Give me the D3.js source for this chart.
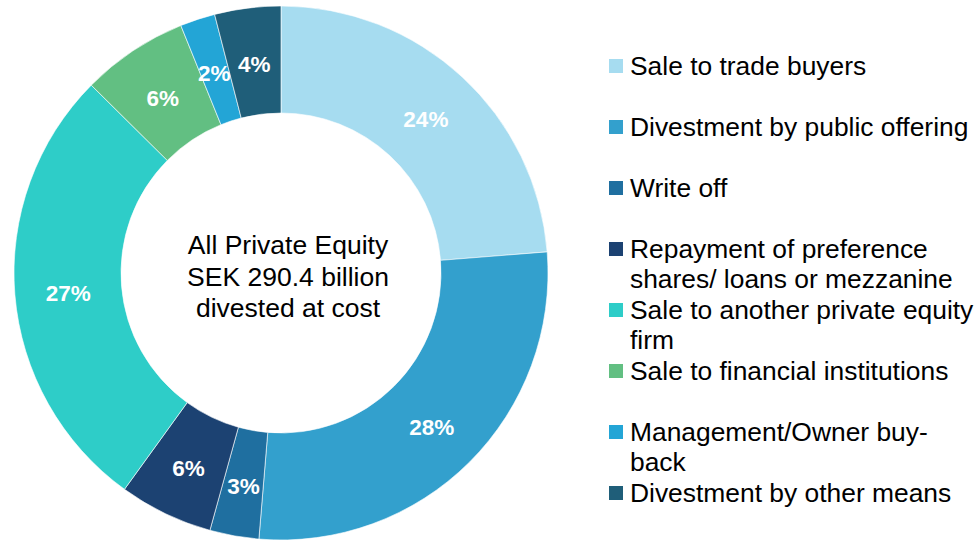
<!DOCTYPE html>
<html>
<head>
<meta charset="utf-8">
<script src="https://cdn.jsdelivr.net/npm/d3@7"></script>
<style>
  body { margin: 0; background: #fff; }
  svg text { font-family: "Liberation Sans", Arial, sans-serif; }
</style>
</head>
<body>
<div id="chart-container"></div>
<script>
const categories = [
  "Sale to trade buyers",
  "Divestment by public offering",
  "Write off",
  "Repayment of preference shares/ loans or mezzanine",
  "Sale to another private equity firm",
  "Sale to financial institutions",
  "Management/Owner buy-back",
  "Divestment by other means",
];
const shares = [23.74, 27.58, 2.97, 5.68, 27.45, 6.46, 2.12, 4.0];
const shareLabels = ["24%", "28%", "3%", "6%", "27%", "6%", "2%", "4%"];
const legendLines = [
  ["Sale to trade buyers"],
  ["Divestment by public offering"],
  ["Write off"],
  ["Repayment of preference", "shares/ loans or mezzanine"],
  ["Sale to another private equity", "firm"],
  ["Sale to financial institutions"],
  ["Management/Owner buy-", "back"],
  ["Divestment by other means"],
];
const colors = [
  "#a6dcf0", "#33a0cd", "#1f6fa0", "#1c4272",
  "#2ecdc8", "#62bf82", "#23a5d6", "#1f5e79",
];
const centerText = ["All Private Equity", "SEK 290.4 billion", "divested at cost"];

const render = () => {
  const width = 979;
  const height = 542;
  const svg = d3.select("#chart-container").append("svg")
    .attr("width", width)
    .attr("height", height);

  const cx = 281;
  const cy = 273;
  const outerR = 267;
  const innerR = 160;

  const data = categories.map((c, i) => ({ name: c, value: shares[i], label: shareLabels[i] }));
  const color = d3.scaleOrdinal().domain(categories).range(colors);

  const pie = d3.pie().value((d) => d.value).sort(null);
  const arc = d3.arc().innerRadius(innerR).outerRadius(outerR);
  const labelArc = d3.arc().innerRadius((innerR + outerR) / 2).outerRadius((innerR + outerR) / 2);

  const g = svg.append("g").attr("transform", `translate(${cx},${cy})`);

  g.selectAll("path")
    .data(pie(data))
    .join("path")
    .attr("d", arc)
    .attr("fill", (d) => color(d.data.name))
    .attr("stroke", "#fff")
    .attr("stroke-width", 0.6);

  g.selectAll("text.pct")
    .data(pie(data))
    .join("text")
    .attr("class", "pct")
    .attr("transform", (d) => {
      const [x, y] = labelArc.centroid(d);
      return `translate(${x},${y + 3})`;
    })
    .attr("text-anchor", "middle")
    .attr("dominant-baseline", "central")
    .attr("fill", "#fff")
    .style("font-weight", "bold")
    .style("font-size", "22.5px")
    .text((d) => d.data.label);

  g.append("g")
    .selectAll("text")
    .data(centerText)
    .join("text")
    .attr("x", 7)
    .attr("y", (d, i) => (i - 1) * 31.5 + 3.5)
    .attr("text-anchor", "middle")
    .attr("dominant-baseline", "central")
    .attr("fill", "#000")
    .style("font-size", "26.5px")
    .text((d) => d);

  // legend
  const legend = svg.append("g").attr("transform", "translate(609,66)");
  const rowY = d3.scaleLinear().domain([0, 7]).range([0, 427]);

  const item = legend.selectAll("g")
    .data(data)
    .join("g")
    .attr("transform", (d, i) => `translate(0,${rowY(i)})`);

  item.append("rect")
    .attr("x", 0)
    .attr("y", -7)
    .attr("width", 14)
    .attr("height", 14)
    .attr("fill", (d) => color(d.name));

  item.append("text")
    .attr("fill", "#000")
    .style("font-size", "26.4px")
    .selectAll("tspan")
    .data((d, i) => legendLines[i])
    .join("tspan")
    .attr("x", 21)
    .attr("y", (d, i) => i * 30)
    .attr("dominant-baseline", "central")
    .text((d) => d);
};

render();
</script>
</body>
</html>
